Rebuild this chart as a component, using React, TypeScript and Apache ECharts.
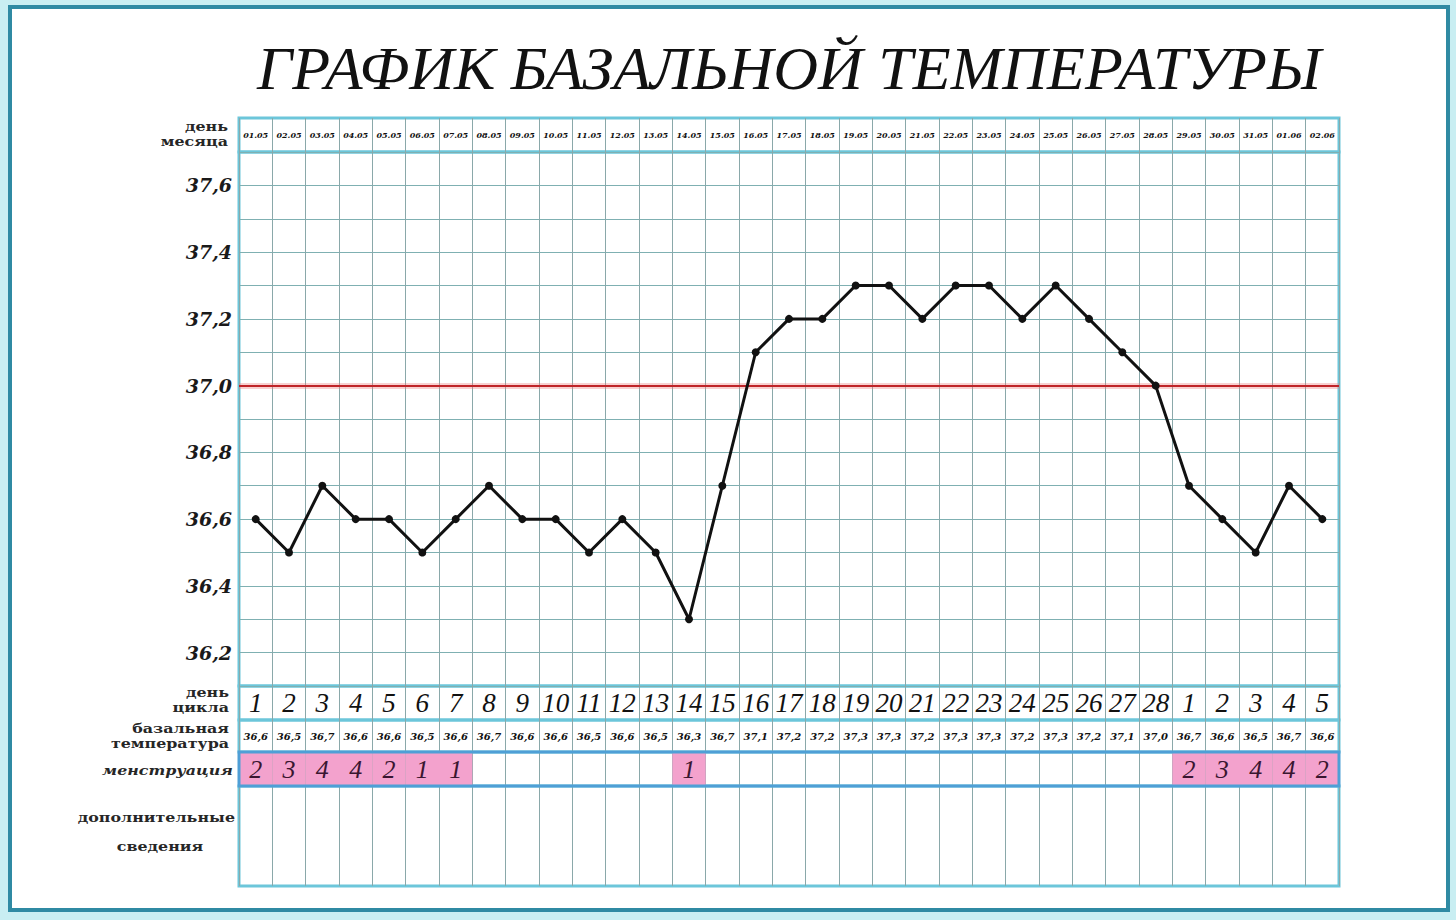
import React, { useEffect, useRef } from "react";
import * as echarts from "echarts";

const dates = [
  "01.05", "02.05", "03.05", "04.05", "05.05", "06.05", "07.05", "08.05", "09.05", "10.05",
  "11.05", "12.05", "13.05", "14.05", "15.05", "16.05", "17.05", "18.05", "19.05", "20.05",
  "21.05", "22.05", "23.05", "24.05", "25.05", "26.05", "27.05", "28.05", "29.05", "30.05",
  "31.05", "01.06", "02.06",
];
const cycleDays = [
  "1", "2", "3", "4", "5", "6", "7", "8", "9", "10", "11", "12", "13", "14", "15", "16", "17",
  "18", "19", "20", "21", "22", "23", "24", "25", "26", "27", "28", "1", "2", "3", "4", "5",
];
const temps = [
  36.6, 36.5, 36.7, 36.6, 36.6, 36.5, 36.6, 36.7, 36.6, 36.6, 36.5, 36.6, 36.5, 36.3, 36.7,
  37.1, 37.2, 37.2, 37.3, 37.3, 37.2, 37.3, 37.3, 37.2, 37.3, 37.2, 37.1, 37.0, 36.7, 36.6,
  36.5, 36.7, 36.6,
];
const menses: (number | null)[] = [
  2, 3, 4, 4, 2, 1, 1, null, null, null, null, null, null, 1, null, null, null, null, null,
  null, null, null, null, null, null, null, null, null, 2, 3, 4, 4, 2,
];
const thresholdTemp = 37.0;
const yMin = 36.1;
const yMax = 37.7;
const titleText = "ГРАФИК БАЗАЛЬНОЙ ТЕМПЕРАТУРЫ";

const fmt = (v: number) => (Math.round(v * 10) / 10).toFixed(1).replace(".", ",");

export default function App() {
  const ref = useRef<HTMLDivElement>(null);
  useEffect(() => {
    document.body.style.margin = "0";
    const chart = echarts.init(ref.current!, undefined, { renderer: "svg" });
    const L = 239;
    const W = 1100;
    const border = "#6cc6da";
    const vLine = "#8aa8aa";
    const hLine = "#7fb0b2";
    const rows = [
      { top: 118, height: 34 },
      { top: 152, height: 534 },
      { top: 686, height: 34 },
      { top: 720, height: 32 },
      { top: 752, height: 34 },
      { top: 786, height: 100 },
    ];
    const grids = rows.map((r, i) => ({
      left: L,
      width: W,
      top: r.top,
      height: r.height,
      show: true,
      backgroundColor: "transparent",
      borderColor: i === 4 ? "#4f9fd6" : border,
      borderWidth: 3,
      z: i === 4 ? 3 : 0,
    }));
    const catData = [dates, dates, cycleDays, temps.map(fmt), dates, dates];
    const xAxes = catData.map((d, i) => ({
      type: "category",
      gridIndex: i,
      data: d,
      boundaryGap: true,
      axisLine: { show: false },
      axisTick: { show: false },
      axisLabel: { show: false },
      splitLine: { show: true, interval: 0, lineStyle: { color: vLine, width: 1 } },
    }));
    const yAxes: any[] = rows.map((_, i) =>
      i === 1
        ? {
            type: "value",
            gridIndex: 1,
            min: yMin,
            max: yMax,
            interval: 0.1,
            axisLine: { show: false },
            axisTick: { show: false },
            splitLine: { show: true, lineStyle: { color: hLine, width: 1 } },
            axisLabel: {
              margin: 7,
              color: "#1a1a1a",
              fontFamily: "DejaVu Serif",
              fontStyle: "italic",
              fontWeight: "bold",
              fontSize: 19,
              formatter: (v: number) => (Math.round(v * 10) % 2 === 0 ? fmt(v) : ""),
            },
          }
        : {
            type: "value",
            gridIndex: i,
            min: 0,
            max: 1,
            show: false,
            splitLine: { show: false },
          }
    );
    const textBar = (idx: number, fontSize: number, font: string, weight: string, color = "#111") => ({
      type: "bar",
      xAxisIndex: idx,
      yAxisIndex: idx,
      barCategoryGap: "0%",
      silent: true,
      data: dates.map(() => 1),
      itemStyle: { color: "rgba(0,0,0,0)" },
      label: {
        show: true,
        position: "inside",
        formatter: "{b}",
        color,
        fontFamily: font,
        fontStyle: "italic",
        fontWeight: weight,
        fontSize,
      },
    });
    const lbl = (text: string, x: number, y: number, align = "right", italic = false) => ({
      type: "text",
      x,
      y,
      scaleX: 1.22,
      silent: true,
      style: {
        text,
        fill: "#262626",
        font: `${italic ? "italic " : ""}bold 13px "DejaVu Serif"`,
        textAlign: align,
        textVerticalAlign: "middle",
      },
    });
    chart.setOption({
      animation: false,
      grid: grids,
      xAxis: xAxes,
      yAxis: yAxes,
      series: [
        textBar(0, 8, "DejaVu Serif", "bold"),
        textBar(2, 27, "Liberation Serif", "normal"),
        textBar(3, 10, "DejaVu Serif", "bold"),
        {
          type: "bar",
          xAxisIndex: 4,
          yAxisIndex: 4,
          barCategoryGap: "0%",
          silent: true,
          data: menses.map((m) => (m == null ? "-" : 1)),
          itemStyle: { color: "#f3a2cd" },
          label: {
            show: true,
            position: "inside",
            formatter: (p: any) => String(menses[p.dataIndex] ?? ""),
            color: "#3a1630",
            fontFamily: "Liberation Serif",
            fontStyle: "italic",
            fontSize: 26,
          },
        },
        {
          type: "line",
          xAxisIndex: 1,
          yAxisIndex: 1,
          data: temps,
          symbol: "circle",
          symbolSize: 8,
          silent: true,
          z: 5,
          lineStyle: { color: "#111", width: 3 },
          itemStyle: { color: "#111" },
          markLine: {
            silent: true,
            symbol: ["none", "none"],
            label: { show: false },
            data: [
              { yAxis: thresholdTemp, lineStyle: { color: "rgba(235,120,120,0.35)", width: 6, type: "solid" } },
              { yAxis: thresholdTemp, lineStyle: { color: "#bf2428", width: 2, type: "solid" } },
            ],
          },
        },
      ],
      graphic: [
        {
          type: "text",
          x: 789,
          y: 68,
          silent: true,
          style: {
            text: titleText,
            fill: "#111",
            font: 'italic 62px "Liberation Serif"',
            textAlign: "center",
            textVerticalAlign: "middle",
          },
        },
        lbl("день", 228, 126),
        lbl("месяца", 228, 141),
        lbl("день", 229, 692),
        lbl("цикла", 229, 707),
        lbl("базальная", 229, 728),
        lbl("температура", 229, 743),
        lbl("менструация", 233, 770, "right", true),
        lbl("дополнительные", 235, 817),
        lbl("сведения", 160, 846, "center"),
      ],
    });
    return () => chart.dispose();
  }, []);
  return (
    <div style={{ position: "relative", width: 1456, height: 920, background: "#c9eef2", overflow: "hidden" }}>
      <div
        style={{
          position: "absolute",
          left: 8,
          top: 5,
          width: 1434,
          height: 899,
          border: "4px solid #2f8aa3",
          background: "#ffffff",
        }}
      />
      <div ref={ref} style={{ position: "absolute", left: 0, top: 0, width: 1456, height: 920 }} />
    </div>
  );
}
